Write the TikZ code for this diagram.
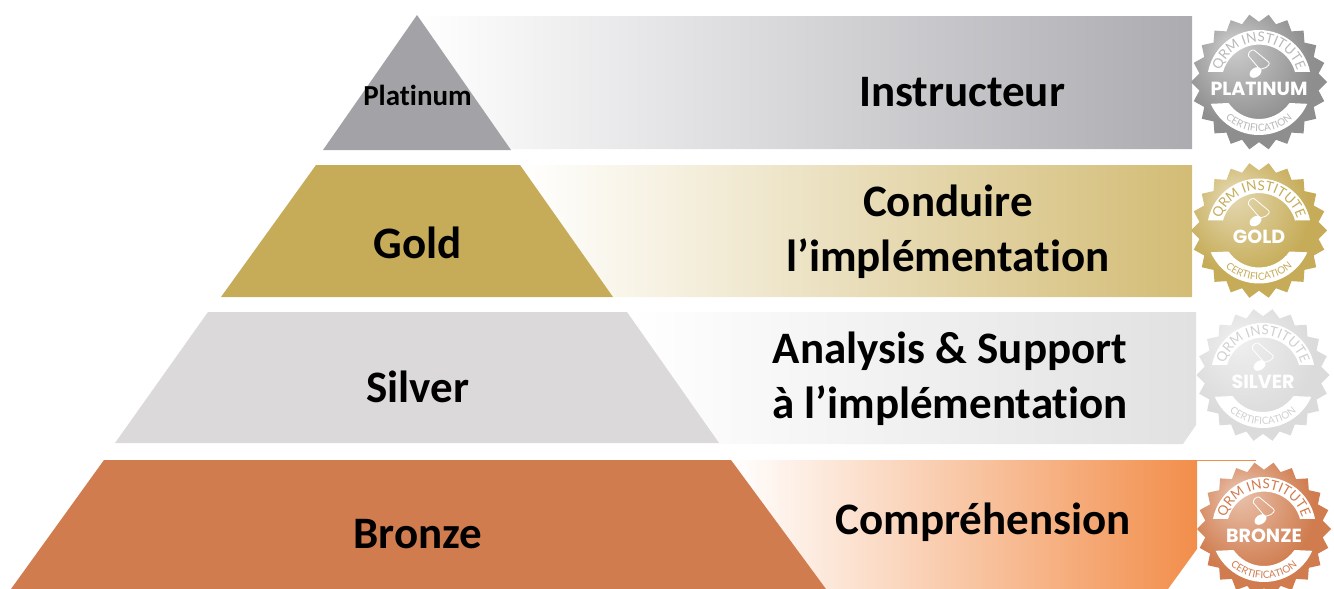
\documentclass[tikz,border=0pt]{standalone}
\usepackage{fontspec}
\setmainfont[Ligatures=NoCommon]{Carlito}
\newfontfamily\badgefont{Lato}
\newfontfamily\badgename{Poppins}
\usetikzlibrary{decorations.text}
\definecolor{platc}{HTML}{A3A2A6}\definecolor{platb}{HTML}{ACABB0}
\definecolor{goldc}{HTML}{C6AC58}\definecolor{goldb}{HTML}{D3BC75}
\definecolor{silvc}{HTML}{DBD9DA}\definecolor{silvb}{HTML}{E2E1E2}
\definecolor{bronc}{HTML}{D07C4E}\definecolor{bronb}{HTML}{F28E4B}
\pgfdeclareradialshading{platshade}{\pgfpoint{-10bp}{14bp}}{color(0bp)=(white!62!gray);color(24bp)=(white!12!gray);color(50bp)=(white!8!gray)}
\pgfdeclareradialshading{goldshade}{\pgfpoint{-10bp}{14bp}}{color(0bp)=(goldc!45!white);color(24bp)=(goldc);color(50bp)=(goldc)}
\pgfdeclareradialshading{silvshade}{\pgfpoint{-10bp}{14bp}}{color(0bp)=(white!94!black);color(24bp)=(white!86!black);color(50bp)=(white!86!black)}
\pgfdeclareradialshading{bronshade}{\pgfpoint{-10bp}{14bp}}{color(0bp)=(bronc!45!white);color(24bp)=(bronc);color(50bp)=(bronc)}
\tikzset{
  tier/.style={font=\bfseries\fontsize{45}{45}\selectfont,text=black,align=center,inner sep=0pt},
  goal/.style={tier},
  badgelabel/.style={font=\badgename\bfseries\fontsize{19}{19}\selectfont,text=white,inner sep=0pt},
}
% #1 name, #2 x, #3 y, #4 radius, #5 shading, #6 text colour, #7 label
\newcommand{\badge}[7]{%
  \begin{scope}[shift={(#2,#3)},y=1pt]
    \pgfmathsetmacro{\Rout}{#4}\pgfmathsetmacro{\Rin}{#4*0.885}
    \pgfmathsetmacro{\Stp}{360/22}
    \shade[shading=#5] (0:\Rout)
      \foreach \k in {1,...,21}{ -- ({(\k-0.5)*\Stp}:\Rin) -- ({\k*\Stp}:\Rout) } -- ({21.5*\Stp}:\Rin) -- cycle;
    \fill[white] (168.7:52) arc[start angle=168.7,end angle=11.3,radius=52] -- (15.5:37.4) arc[start angle=15.5,end angle=164.5,radius=37.4] -- cycle;
    \fill[white] (204.3:53) arc[start angle=204.3,end angle=335.7,radius=53] -- (325.4:37) arc[start angle=325.4,end angle=214.6,radius=37] -- cycle;
    \draw[white,line width=.8pt,line join=round] (-10.5,26) to[out=110,in=170] (-5,32) -- (9.5,20) to[out=-40,in=20] (7,14.5) -- (1,12.5) -- cycle;
    \fill[white,rotate around={35:(-3.5,9.5)}] (-3.5,9.5) ellipse[x radius=6.5,y radius=4.6];
    \path[decorate,decoration={text along path,text align=center,text={|\badgefont\fontsize{13.5}{13.5}\selectfont\color{#6}|QRM INSTITUTE}}] (165:40) arc[start angle=165,end angle=15,radius=40];
    \path[decorate,decoration={text along path,text align=center,text={|\badgefont\fontsize{10}{10}\selectfont\color{#6}|CERTIFICATION}}] (205:49.5) arc[start angle=205,end angle=335,radius=49.5];
    \node[badgelabel] (#1) at (0,-6.5) {#7};
  \end{scope}}
\begin{document}
\begin{tikzpicture}[x=1pt,y=-1pt]
\useasboundingbox (0,0) rectangle (1334,589);
% gradient bands
\shade[left color=white,right color=platb] (417,16) -- (1192,16) -- (1192,149) -- (510,149) -- cycle;
\shade[left color=white,right color=goldb] (520,165) -- (1192,165) -- (1192,297) -- (613,297) -- cycle;
\shade[left color=white,right color=silvb] (627,312) -- (1196,312) -- (1196,425) -- (1183,444) -- (719,444) -- cycle;
\shade[left color=white,right color=bronb] (731,460) -- (1197,460) -- (1197,549) -- (1168,589) -- (826,589) -- cycle;
\draw[bronb,line width=.8pt] (1197,460) -- (1256,460);
% pyramid
\fill[platc] (417,15) -- (511,150) -- (323,150) -- cycle;
\fill[goldc] (316,165) -- (520,165) -- (613,297) -- (221,297) -- cycle;
\fill[silvc] (208,312) -- (627,312) -- (719,443) -- (115,443) -- cycle;
\fill[bronc] (104,460) -- (731,460) -- (826,589) -- (11,589) -- cycle;
% labels
\node[font=\bfseries\fontsize{29}{29}\selectfont,inner sep=0pt] (nplat) at (417.5,95) {Platinum};
\node[tier] (ngold) at (418,243) {Gold};
\node[tier] (nsilv) at (418,387) {Silver};
\node[tier] (nbron) at (418,534) {Bronze};
\node[goal] (ginst) at (962,92) {Instructeur};
\node[goal] (gcond) at (948,201) {Conduire};
\node[goal] (gimpl) at (948,258.5) {l’implémentation};
\node[goal] (ganal) at (950,351) {Analysis \& Support};
\node[goal] (gimp2) at (950,406) {à l’implémentation};
\node[goal] (gcomp) at (983,522) {Compréhension};
% badges
\begin{scope}
\clip (0,0) rectangle (1334,589);
\badge{bplat}{1259}{82}{68}{platshade}{white!45!gray}{PLATINUM}
\badge{bgold}{1259}{230.5}{68}{goldshade}{goldc}{GOLD}
\badge{bsilv}{1263}{375}{66.5}{silvshade}{white!82!black}{SILVER}
\badge{bbron}{1264}{529}{67}{bronshade}{bronc}{BRONZE}
\end{scope}
\end{tikzpicture}
\end{document}
